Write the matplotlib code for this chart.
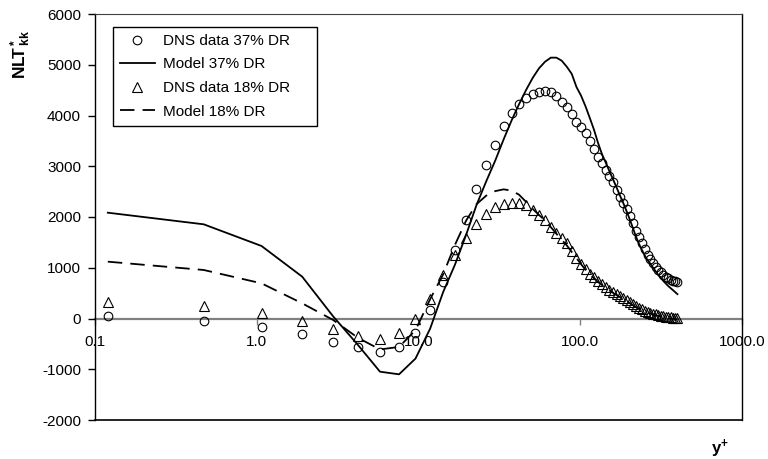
import matplotlib
matplotlib.use('Agg')
import matplotlib.pyplot as plt
from matplotlib.ticker import FixedLocator, NullLocator, FormatStrFormatter

plt.rcParams['font.family'] = ['Liberation Sans', 'DejaVu Sans']
plt.rcParams['axes.unicode_minus'] = False
plt.rcParams['mathtext.fontset'] = 'custom'
plt.rcParams['mathtext.rm'] = 'Liberation Sans'
plt.rcParams['mathtext.bf'] = 'Liberation Sans:bold'
plt.rcParams['mathtext.it'] = 'Liberation Sans:italic'

# y+ positions (same grid for all four series)
yplus = [0.12, 0.47, 1.07, 1.91, 2.97, 4.22, 5.78, 7.58, 9.58, 11.8,
         14.2, 16.8, 19.7, 22.8, 26.2, 29.8, 33.6, 37.6, 41.8, 46.2,
         50.8, 55.6, 60.6, 65.8, 71.2, 76.8, 82.6, 88.6, 94.8, 101.2,
         107.8, 114.6, 121.6, 128.8, 136.2, 143.8, 151.6, 159.6, 167.8, 176.2,
         184.8, 193.6, 202.6, 211.8, 221.2, 230.8, 240.6, 250.6, 260.8, 271.2,
         281.8, 292.6, 303.6, 314.8, 326.2, 337.8, 349.6, 361.6, 373.8, 386.2,
         398.8]

dns37 = [50, -45, -160, -300, -457, -570, -654, -570, -292, 167,
         725, 1340, 1940, 2550, 3030, 3420, 3790, 4040, 4220, 4340,
         4420, 4465, 4480, 4460, 4380, 4270, 4160, 4030, 3870, 3780,
         3650, 3490, 3340, 3190, 3060, 2920, 2800, 2680, 2530, 2400,
         2280, 2160, 2020, 1890, 1720, 1600, 1480, 1360, 1260, 1170,
         1090, 1020, 960, 910, 860, 820, 790, 765, 745, 730,
         720]

model37 = [2085, 1856, 1429, 824, 40, -520, -1048, -1100, -790, -200,
           520, 1060, 1650, 2230, 2700, 3110, 3530, 3900, 4220, 4500,
           4740, 4930, 5060, 5140, 5140, 5080, 4960, 4820, 4560, 4390,
           4180, 3950, 3720, 3460, 3240, 3070, 2900, 2740, 2580, 2420,
           2270, 2110, 1950, 1780, 1610, 1470, 1350, 1240, 1150, 1080,
           1000, 930, 860, 800, 740, 690, 640, 600, 560, 520,
           480]

dns18 = [330, 246, 115, -43, -210, -345, -410, -290, -15, 380,
         850, 1250, 1590, 1860, 2060, 2190, 2260, 2280, 2280, 2230,
         2140, 2040, 1950, 1810, 1690, 1580, 1480, 1330, 1200, 1080,
         970, 880, 810, 740, 680, 620, 570, 525, 480, 440,
         400, 370, 320, 280, 240, 210, 180, 155, 135, 115,
         95, 80, 65, 55, 45, 35, 28, 20, 14, 8,
         3]

model18 = [1120, 956, 693, 299, -30, -380, -610, -560, -230, 380,
           870, 1450, 1930, 2250, 2420, 2510, 2545, 2520, 2440, 2300,
           2160, 2040, 1930, 1800, 1670, 1550, 1440, 1310, 1190, 1070,
           960, 870, 790, 720, 660, 600, 550, 505, 460, 420,
           380, 340, 300, 260, 225, 195, 165, 140, 120, 100,
           80, 65, 50, 38, 28, 18, 10, 3, -5, -12,
           -20]

xticks = [0.1, 1, 10, 100, 1000]
yticks = [-2000, -1000, 0, 1000, 2000, 3000, 4000, 5000, 6000]

fs = 11

fig = plt.figure(figsize=(7.68, 4.59), dpi=100)
ax = fig.add_axes([95/768, 1-420/459, (742-95)/768, (420-14)/459])
ax.set_xscale('log')
ax.set_xlim(0.1, 1000)
ax.set_ylim(-2000, 6000)

# markers and lines
c37, = ax.plot(yplus, dns37, ls='none', marker='o', ms=6.2, mfc='none',
               mec='k', mew=0.8, label='DNS data 37% DR', zorder=4)
m37, = ax.plot(yplus, model37, color='k', lw=1.3, label='Model 37% DR', zorder=3)
t18, = ax.plot(yplus, dns18, ls='none', marker='^', ms=6.5, mfc='none',
               mec='k', mew=0.8, label='DNS data 18% DR', zorder=4)
m18, = ax.plot(yplus, model18, color='k', lw=1.3, label='Model 18% DR', zorder=3)
m18.set_dashes([8, 4.5])

# frame: x axis runs along y = 0
ax.spines['bottom'].set_position(('data', 0))
ax.spines['bottom'].set_color('#808080')
ax.spines['bottom'].set_linewidth(1.6)
ax.spines['bottom'].set_zorder(1)
ax.spines['top'].set_color('#404040')
ax.spines['left'].set_linewidth(1.0)
ax.spines['right'].set_linewidth(1.0)
ax.axhline(-2000, color='k', lw=1.2, clip_on=False)

ax.xaxis.set_major_locator(FixedLocator(xticks))
ax.xaxis.set_minor_locator(NullLocator())
ax.xaxis.set_major_formatter(FormatStrFormatter('%.1f'))
ax.tick_params(axis='x', direction='out', length=4, width=1, color='#808080',
               pad=8, labelsize=fs)
ax.set_yticks(yticks)
ax.tick_params(axis='y', direction='out', length=5, width=1, pad=5, labelsize=fs)

leg = ax.legend(handles=[c37, m37, t18, m18], loc='upper left', mode='expand',
                bbox_to_anchor=(113/768, 1-129/459, 204/768, 102/459),
                bbox_transform=fig.transFigure,
                fontsize=fs, frameon=True, fancybox=False, edgecolor='k',
                framealpha=1, borderpad=0.45, labelspacing=0.63,
                handlelength=2.3, handletextpad=0.5, borderaxespad=0, numpoints=1)
leg.get_frame().set_linewidth(1.0)

fig.text(21/768, 1-79/459, r'$\mathbf{NL\!T}\,_{\mathbf{kk}}^{\mathbf{*}}$',
         rotation=90, rotation_mode='anchor', ha='left', va='center',
         fontsize=12.5)
fig.text(720/768, 1-449/459, r'$\mathbf{y}^{\mathbf{+}}$',
         ha='center', va='center', fontsize=12)

fig.savefig('out.png', dpi=100)
